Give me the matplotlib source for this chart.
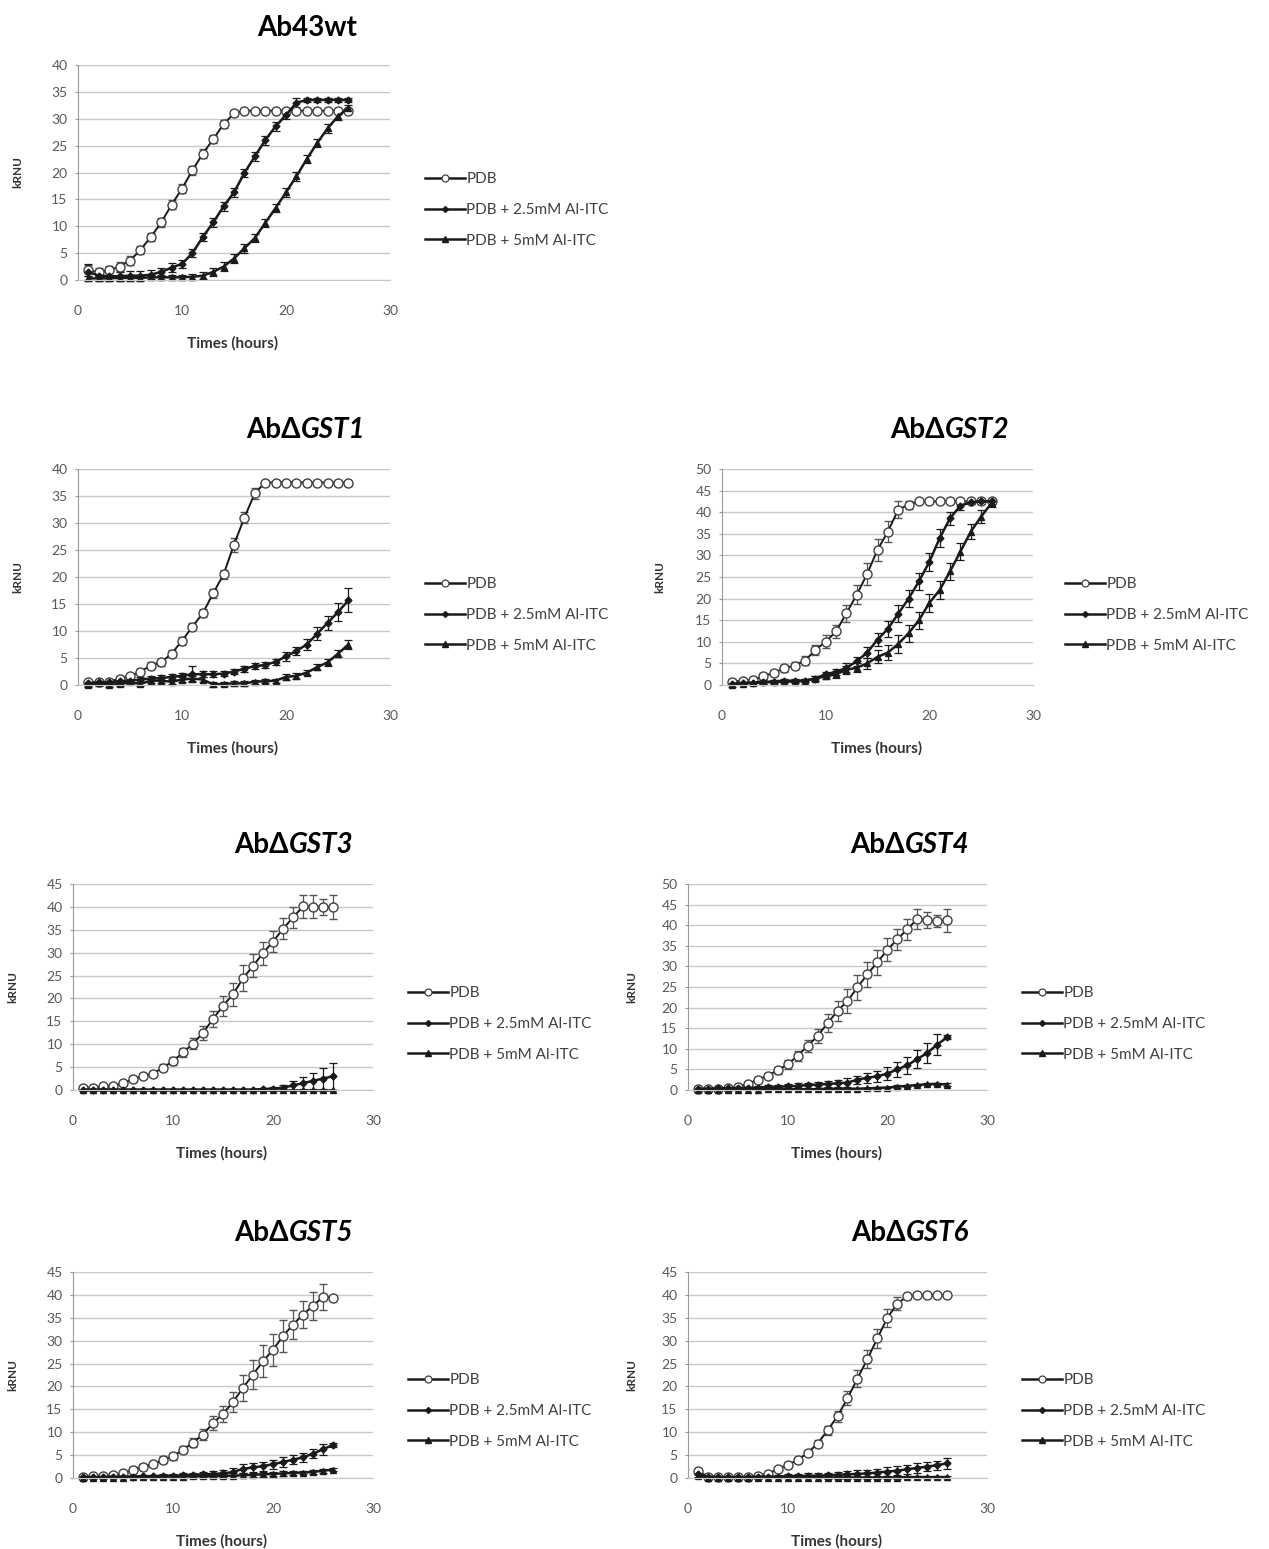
import matplotlib
matplotlib.use('Agg')
from matplotlib import pyplot as plt
from matplotlib.lines import Line2D

W, H = 1269, 1549
FONT = ['Lato', 'DejaVu Sans']
plt.rcParams['font.family'] = FONT

hours = list(range(1, 27))
labels = ['PDB', 'PDB + 2.5mM Al-ITC', 'PDB + 5mM Al-ITC']

# ---- Ab43wt
wt_pdb = [1.8, 1.5, 1.8, 2.5, 3.6, 5.6, 8.0, 10.7, 14.0, 17.0, 20.4, 23.5, 26.2, 29.0, 31.0, 31.5, 31.5, 31.5, 31.5, 31.5, 31.5, 31.5, 31.5, 31.5, 31.5, 31.5]
wt_pdb_err = [1.0, 0.8, 0.8, 0.8, 0.8, 0.8, 0.8, 0.8, 0.8, 0.8, 0.8, 0.8, 0.8, 0.8, 0.5, 0.3, 0.3, 0.3, 0.3, 0.3, 0.3, 0.3, 0.3, 0.3, 0.3, 0.3]
wt_25 = [1.5, 0.8, 0.7, 0.7, 0.8, 0.8, 1.0, 1.5, 2.3, 3.0, 5.0, 8.0, 10.7, 13.7, 16.3, 19.9, 23.0, 26.0, 28.6, 30.7, 33.0, 33.5, 33.5, 33.5, 33.5, 33.5]
wt_25_err = [1.5, 1.0, 0.8, 0.8, 0.8, 0.8, 0.8, 0.8, 0.8, 0.8, 0.8, 0.8, 0.8, 0.8, 0.8, 0.8, 0.8, 0.8, 0.8, 0.8, 0.8, 0.3, 0.3, 0.3, 0.3, 0.3]
wt_5 = [0.3, 0.3, 0.3, 0.4, 0.4, 0.4, 0.5, 0.5, 0.5, 0.5, 0.6, 0.8, 1.5, 2.5, 4.0, 5.9, 7.8, 10.6, 13.4, 16.3, 19.3, 22.5, 25.5, 28.2, 30.5, 32.0]
wt_5_err = [0.5, 0.5, 0.5, 0.5, 0.5, 0.5, 0.5, 0.5, 0.5, 0.5, 0.6, 0.6, 0.7, 0.8, 0.8, 0.8, 0.8, 0.8, 0.8, 0.8, 0.8, 0.8, 0.8, 0.8, 0.8, 0.5]

# ---- GST1
g1_pdb = [0.5, 0.5, 0.6, 1.2, 1.6, 2.5, 3.6, 4.2, 5.8, 8.2, 10.8, 13.3, 17.0, 20.5, 26.0, 31.0, 35.5, 37.5, 37.5, 37.5, 37.5, 37.5, 37.5, 37.5, 37.5, 37.5]
g1_pdb_err = [0.3, 0.3, 0.3, 0.5, 0.5, 0.5, 0.6, 0.6, 0.7, 0.7, 0.7, 0.7, 0.8, 0.8, 1.3, 1.0, 1.0, 0.3, 0.3, 0.3, 0.3, 0.3, 0.3, 0.3, 0.3, 0.3]
g1_25 = [0.3, 0.5, 0.5, 0.7, 0.8, 1.0, 1.2, 1.3, 1.5, 1.7, 2.0, 2.0, 2.0, 2.1, 2.5, 3.0, 3.5, 3.7, 4.3, 5.3, 6.3, 7.5, 9.5, 11.5, 13.5, 15.7]
g1_25_err = [0.5, 0.5, 0.5, 0.5, 0.5, 0.5, 0.5, 0.5, 0.5, 0.6, 1.5, 0.6, 0.6, 0.5, 0.5, 0.5, 0.5, 0.5, 0.6, 0.8, 0.8, 1.0, 1.2, 1.3, 1.6, 2.2]
g1_5 = [0.0, 0.3, 0.0, 0.2, 0.5, 0.2, 0.8, 0.8, 0.6, 1.0, 1.2, 1.0, 0.1, 0.2, 0.3, 0.3, 0.6, 0.7, 0.8, 1.5, 1.7, 2.3, 3.3, 4.2, 5.8, 7.5]
g1_5_err = [0.4, 0.4, 0.4, 0.4, 0.4, 0.4, 0.5, 0.5, 0.5, 0.5, 0.5, 0.5, 0.4, 0.4, 0.4, 0.4, 0.4, 0.4, 0.4, 0.5, 0.5, 0.5, 0.6, 0.6, 0.7, 0.8]

# ---- GST2
g2_pdb = [0.8, 1.0, 1.2, 2.1, 2.8, 3.9, 4.5, 5.6, 8.1, 10.0, 12.4, 16.6, 20.9, 25.7, 31.3, 35.5, 40.6, 41.7, 42.5, 42.5, 42.5, 42.5, 42.5, 42.5, 42.5, 42.5]
g2_pdb_err = [0.5, 0.5, 0.5, 0.6, 0.7, 0.8, 0.8, 1.0, 1.2, 1.5, 1.5, 2.0, 2.2, 2.5, 2.5, 2.5, 2.0, 1.0, 0.4, 0.4, 0.4, 0.4, 0.4, 0.4, 0.4, 0.4]
g2_25 = [0.3, 0.5, 0.5, 0.7, 0.8, 1.0, 1.0, 1.0, 1.5, 2.5, 3.0, 4.0, 5.5, 7.5, 10.5, 13.0, 16.5, 20.0, 24.0, 28.5, 34.0, 38.6, 41.5, 42.3, 42.5, 42.5]
g2_25_err = [0.4, 0.4, 0.4, 0.4, 0.4, 0.4, 0.4, 0.4, 0.5, 0.6, 0.8, 1.0, 1.0, 1.2, 1.5, 1.8, 2.0, 2.0, 2.0, 2.0, 2.0, 1.5, 1.0, 0.5, 0.5, 0.5]
g2_5 = [0.0, 0.3, 0.5, 0.6, 0.7, 0.8, 0.8, 1.0, 1.5, 2.0, 2.5, 3.5, 4.0, 5.0, 6.5, 7.5, 9.5, 12.0, 15.0, 19.0, 22.0, 26.3, 30.9, 35.5, 39.0, 42.1]
g2_5_err = [0.4, 0.4, 0.4, 0.4, 0.4, 0.4, 0.4, 0.4, 0.5, 0.6, 0.8, 1.0, 1.0, 1.2, 1.5, 1.8, 2.0, 2.0, 2.0, 2.0, 2.0, 2.0, 2.0, 1.8, 1.5, 1.0]

# ---- GST3
g3_pdb = [0.5, 0.5, 0.8, 0.8, 1.6, 2.3, 3.1, 3.6, 4.9, 6.3, 8.2, 10.1, 12.5, 15.5, 18.4, 20.9, 24.4, 27.1, 29.9, 32.4, 35.2, 37.7, 40.1, 40.0, 40.0, 40.0]
g3_pdb_err = [0.3, 0.3, 0.3, 0.3, 0.4, 0.5, 0.5, 0.6, 0.7, 0.8, 1.0, 1.2, 1.5, 1.8, 2.2, 2.5, 2.8, 2.5, 2.5, 2.3, 2.3, 2.3, 2.5, 2.5, 1.8, 2.6]
g3_25 = [0.1, 0.1, 0.1, 0.1, 0.1, 0.1, 0.1, 0.1, 0.1, 0.1, 0.1, 0.1, 0.1, 0.1, 0.1, 0.1, 0.1, 0.1, 0.2, 0.3, 0.5, 1.0, 1.5, 2.0, 2.5, 3.0]
g3_25_err = [0.1, 0.1, 0.1, 0.1, 0.1, 0.1, 0.1, 0.1, 0.1, 0.1, 0.1, 0.1, 0.1, 0.1, 0.1, 0.1, 0.1, 0.2, 0.3, 0.4, 0.6, 1.0, 1.3, 1.8, 2.2, 3.0]
g3_5 = [0.0, 0.0, 0.0, 0.0, 0.0, 0.0, 0.0, 0.0, 0.0, 0.0, 0.0, 0.0, 0.0, 0.0, 0.0, 0.0, 0.0, 0.0, 0.0, 0.0, 0.0, 0.0, 0.0, 0.0, 0.0, 0.0]
g3_5_err = [0.1, 0.1, 0.1, 0.1, 0.1, 0.1, 0.1, 0.1, 0.1, 0.1, 0.1, 0.1, 0.1, 0.1, 0.1, 0.1, 0.1, 0.1, 0.1, 0.1, 0.1, 0.1, 0.1, 0.1, 0.1, 0.1]

# ---- GST4
g4_pdb = [0.3, 0.3, 0.3, 0.5, 0.8, 1.5, 2.5, 3.5, 4.8, 6.2, 8.3, 10.7, 13.1, 16.2, 19.2, 21.6, 24.9, 28.1, 31.0, 34.0, 36.6, 39.0, 41.5, 41.2, 41.0, 41.2]
g4_pdb_err = [0.3, 0.3, 0.3, 0.3, 0.4, 0.5, 0.6, 0.7, 0.8, 1.0, 1.2, 1.5, 1.8, 2.2, 2.5, 2.8, 3.0, 3.0, 3.0, 2.8, 2.5, 2.5, 2.5, 2.0, 1.5, 2.8]
g4_25 = [0.3, 0.3, 0.4, 0.4, 0.5, 0.5, 0.6, 0.7, 0.8, 0.9, 1.0, 1.2, 1.3, 1.5, 1.6, 1.8, 2.5, 3.0, 3.3, 4.0, 5.0, 6.0, 7.5, 9.0, 11.0, 12.8]
g4_25_err = [0.3, 0.3, 0.3, 0.3, 0.3, 0.3, 0.4, 0.4, 0.5, 0.5, 0.6, 0.6, 0.7, 0.8, 0.9, 1.0, 1.0, 1.2, 1.3, 1.5, 1.8, 2.0, 2.2, 2.5, 2.5, 0.5]
g4_5 = [0.1, 0.1, 0.1, 0.1, 0.1, 0.1, 0.1, 0.2, 0.2, 0.2, 0.2, 0.2, 0.2, 0.3, 0.3, 0.3, 0.3, 0.4, 0.5, 0.6, 0.8, 1.0, 1.2, 1.4, 1.5, 1.3]
g4_5_err = [0.2, 0.2, 0.2, 0.2, 0.2, 0.2, 0.2, 0.2, 0.2, 0.2, 0.2, 0.2, 0.2, 0.2, 0.2, 0.2, 0.2, 0.2, 0.2, 0.2, 0.3, 0.3, 0.3, 0.3, 0.3, 0.3]

# ---- GST5
g5_pdb = [0.3, 0.5, 0.5, 0.6, 1.0, 1.8, 2.5, 3.0, 4.0, 4.7, 6.2, 7.7, 9.5, 12.0, 14.0, 16.6, 19.7, 22.6, 25.5, 28.0, 31.0, 33.5, 35.7, 37.6, 39.6, 39.4]
g5_pdb_err = [0.3, 0.3, 0.3, 0.3, 0.4, 0.5, 0.5, 0.6, 0.7, 0.8, 0.8, 1.0, 1.2, 1.5, 1.8, 2.2, 2.8, 3.2, 3.5, 3.5, 3.5, 3.2, 3.0, 3.0, 2.8, 0.3]
g5_25 = [0.2, 0.2, 0.2, 0.3, 0.3, 0.3, 0.4, 0.4, 0.5, 0.5, 0.6, 0.7, 0.8, 0.9, 1.0, 1.3, 2.0, 2.3, 2.6, 3.0, 3.5, 4.0, 4.5, 5.3, 6.3, 7.2]
g5_25_err = [0.3, 0.3, 0.3, 0.3, 0.3, 0.3, 0.3, 0.3, 0.4, 0.4, 0.5, 0.5, 0.6, 0.6, 0.7, 0.8, 1.0, 1.0, 1.0, 1.0, 1.0, 1.0, 1.0, 1.0, 1.2, 0.4]
g5_5 = [0.1, 0.1, 0.1, 0.1, 0.1, 0.2, 0.2, 0.2, 0.3, 0.3, 0.3, 0.4, 0.4, 0.4, 0.5, 0.5, 0.6, 0.7, 0.8, 0.9, 1.0, 1.1, 1.2, 1.3, 1.6, 1.8]
g5_5_err = [0.2, 0.2, 0.2, 0.2, 0.2, 0.2, 0.2, 0.2, 0.2, 0.3, 0.3, 0.3, 0.3, 0.4, 0.4, 0.5, 0.5, 0.5, 0.5, 0.5, 0.5, 0.5, 0.4, 0.4, 0.4, 0.3]

# ---- GST6
g6_pdb = [1.5, 0.3, 0.2, 0.2, 0.2, 0.3, 0.5, 0.9, 2.0, 2.9, 3.9, 5.5, 7.5, 10.4, 13.5, 17.4, 21.7, 26.0, 30.5, 35.0, 38.1, 39.7, 40.0, 40.0, 40.0, 40.0]
g6_pdb_err = [0.5, 0.3, 0.3, 0.3, 0.3, 0.3, 0.3, 0.4, 0.5, 0.5, 0.6, 0.7, 0.8, 1.0, 1.2, 1.5, 1.8, 2.0, 2.0, 2.0, 1.5, 0.5, 0.3, 0.3, 0.3, 0.3]
g6_25 = [0.8, 0.3, 0.2, 0.2, 0.2, 0.2, 0.3, 0.3, 0.3, 0.4, 0.4, 0.5, 0.5, 0.6, 0.7, 0.8, 0.9, 1.0, 1.2, 1.4, 1.6, 1.9, 2.2, 2.5, 2.8, 3.2]
g6_25_err = [0.5, 0.3, 0.3, 0.3, 0.3, 0.3, 0.3, 0.3, 0.4, 0.4, 0.5, 0.5, 0.6, 0.6, 0.7, 0.7, 0.8, 0.8, 0.8, 0.9, 1.0, 1.0, 1.0, 1.0, 1.0, 1.2]
g6_5 = [0.5, 0.1, 0.1, 0.1, 0.1, 0.1, 0.1, 0.1, 0.1, 0.1, 0.1, 0.1, 0.1, 0.1, 0.1, 0.1, 0.1, 0.1, 0.1, 0.1, 0.1, 0.2, 0.2, 0.2, 0.2, 0.2]
g6_5_err = [0.4, 0.2, 0.2, 0.2, 0.2, 0.2, 0.2, 0.2, 0.2, 0.2, 0.2, 0.2, 0.2, 0.3, 0.3, 0.3, 0.3, 0.3, 0.3, 0.3, 0.3, 0.3, 0.3, 0.3, 0.3, 0.3]

# name parts, y max, data
panels = [
    (('Ab43wt', ''), 40, [(wt_pdb, wt_pdb_err), (wt_25, wt_25_err), (wt_5, wt_5_err)]),
    (('Ab\u0394', 'GST1'), 40, [(g1_pdb, g1_pdb_err), (g1_25, g1_25_err), (g1_5, g1_5_err)]),
    (('Ab\u0394', 'GST2'), 50, [(g2_pdb, g2_pdb_err), (g2_25, g2_25_err), (g2_5, g2_5_err)]),
    (('Ab\u0394', 'GST3'), 45, [(g3_pdb, g3_pdb_err), (g3_25, g3_25_err), (g3_5, g3_5_err)]),
    (('Ab\u0394', 'GST4'), 50, [(g4_pdb, g4_pdb_err), (g4_25, g4_25_err), (g4_5, g4_5_err)]),
    (('Ab\u0394', 'GST5'), 45, [(g5_pdb, g5_pdb_err), (g5_25, g5_25_err), (g5_5, g5_5_err)]),
    (('Ab\u0394', 'GST6'), 45, [(g6_pdb, g6_pdb_err), (g6_25, g6_25_err), (g6_5, g6_5_err)]),
]

# layout in pixels: axes (left, right, top, bottom), title centre, legend (x, y), ylabel x
boxes = [
    ((78, 390, 65, 280), (307, 28), (425, 210), 18),
    ((78, 390, 469, 685), (306, 430), (425, 615), 18),
    ((722, 1033, 469, 685), (950, 430), (1065, 615), 660),
    ((73, 373, 884, 1090), (294, 845), (408, 1024), 13),
    ((688, 987, 884, 1090), (910, 845), (1022, 1024), 632),
    ((73, 373, 1272, 1478), (294, 1233), (408, 1411), 13),
    ((688, 987, 1272, 1478), (910, 1233), (1022, 1411), 632),
]

def fx(x):
    return x / W

def fy(y):
    return 1 - y / H

styles = [
    dict(marker='o', ms=6.5, mfc='white', mec='#404040', mew=1.0, color='#1a1a1a', lw=1.4, ecolor='#555555'),
    dict(marker='D', ms=3.5, mfc='#1a1a1a', mec='#1a1a1a', color='#1a1a1a', lw=1.8, ecolor='#1a1a1a'),
    dict(marker='^', ms=4.5, mfc='#1a1a1a', mec='#1a1a1a', color='#1a1a1a', lw=1.8, ecolor='#1a1a1a'),
]
handles = [
    Line2D([], [], marker='o', ms=5, mfc='white', mec='#404040', mew=0.9, color='#1a1a1a', lw=1.8),
    Line2D([], [], marker='D', ms=3, mfc='#1a1a1a', mec='#1a1a1a', color='#1a1a1a', lw=1.8),
    Line2D([], [], marker='^', ms=4, mfc='#1a1a1a', mec='#1a1a1a', color='#1a1a1a', lw=1.8),
]

fig = plt.figure(figsize=(W / 100, H / 100), dpi=100)
titles = []

for (name, ymax, series), (box, tpos, lpos, ylx) in zip(panels, boxes):
    l, r, t, b = box
    ax = fig.add_axes([fx(l), fy(b), (r - l) / W, (b - t) / H])
    for (vals, errs), st in zip(series, styles):
        st = dict(st)
        ec = st.pop('ecolor')
        ax.errorbar(hours, vals, yerr=errs, capsize=3, elinewidth=0.9, capthick=0.9,
                    ecolor=ec, clip_on=False, **st)
    ax.set_xlim(0, 30)
    ax.set_ylim(0, ymax)
    ax.set_xticks([0, 10, 20, 30])
    ax.set_yticks(list(range(0, ymax + 1, 5)))
    ax.yaxis.grid(True, color='#c8c8c8', lw=1.0)
    ax.set_axisbelow(True)
    for s in ['top', 'right']:
        ax.spines[s].set_visible(False)
    ax.spines['left'].set_color('#9a9a9a')
    ax.spines['bottom'].set_color('#c8c8c8')
    ax.tick_params(labelsize=10, colors='#595959')
    ax.tick_params(axis='x', length=0, pad=18)
    ax.tick_params(axis='y', length=2.5, width=0.8, color='#9a9a9a', pad=5)

    fig.text(fx(ylx), fy((t + b) / 2), 'kRNU', rotation=90, ha='center', va='center',
             fontsize=8.5, fontweight='bold', color='#333333')
    fig.text(fx((l + r) / 2 - 1), fy(b + 63), 'Times (hours)', ha='center', va='center',
             fontsize=11, fontweight='bold', color='#333333')

    leg = ax.legend(handles, labels, loc='center left', bbox_to_anchor=(fx(lpos[0]), fy(lpos[1])),
                    bbox_transform=fig.transFigure, frameon=False, fontsize=11,
                    borderpad=0, borderaxespad=0, handlelength=2.6, handletextpad=0.1,
                    labelspacing=1.1)
    for txt in leg.get_texts():
        txt.set_color('#404040')

    t1 = fig.text(fx(tpos[0]), fy(tpos[1]), name[0], ha='left', va='center',
                  fontsize=20, fontweight='bold')
    t2 = fig.text(fx(tpos[0]), fy(tpos[1]), name[1], ha='left', va='center',
                  fontsize=20, fontweight='bold', style='italic')
    titles.append((t1, t2, tpos))

# centre the two-part titles
renderer = fig.canvas.get_renderer()
for t1, t2, tpos in titles:
    w1 = t1.get_window_extent(renderer).width
    w2 = t2.get_window_extent(renderer).width if t2.get_text() else 0
    x0 = tpos[0] - (w1 + w2) / 2
    t1.set_x(fx(x0))
    t2.set_x(fx(x0 + w1))

fig.savefig('out.png', dpi=100)
